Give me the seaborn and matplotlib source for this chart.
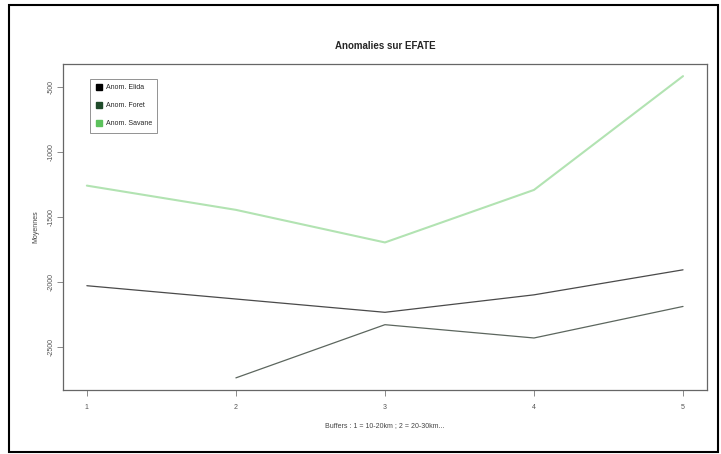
import numpy as np
import pandas as pd
import matplotlib
matplotlib.use("Agg")
import matplotlib.pyplot as plt
import seaborn as sns
from matplotlib.lines import Line2D
from matplotlib.patches import Rectangle

# Data
buffers = [1, 2, 3, 4, 5]
anom_elida = [-2026, -2128, -2230, -2096, -1904]
anom_foret = [np.nan, -2733, -2325, -2427, -2185]
anom_savane = [-1258, -1444, -1694, -1291, -418]
series_names = ["Anom. Elida", "Anom. Foret", "Anom. Savane"]
line_colors = ["#4a4a4a", "#5c665e", "#b2e3b2"]
legend_colors = ["#000000", "#1f4a2a", "#5cc25c"]

df = pd.DataFrame({
    "Buffer": buffers * 3,
    "Moyenne": anom_elida + anom_foret + anom_savane,
    "Serie": [series_names[0]] * 5 + [series_names[1]] * 5 + [series_names[2]] * 5,
}).dropna()

sns.set_style("white")
plt.rcParams['font.family'] = ['Liberation Sans', 'DejaVu Sans']

fig = plt.figure(figsize=(7.21, 4.54), dpi=100)
ax = fig.add_axes([0.0874, 0.141, 0.893, 0.718])

sns.lineplot(data=df, x="Buffer", y="Moyenne", hue="Serie", hue_order=series_names,
             palette=line_colors, linewidth=0.9, legend=False, ax=ax)
# savane line is a bit thicker in the reference
ax.lines[2].set_linewidth(1.5)

ax.set_xlim(0.84, 5.16)
ax.set_ylim(-2826, -325)
ax.set_xticks(buffers)
ax.set_yticks([-2500, -2000, -1500, -1000, -500])
ax.set_yticklabels(["-2500", "-2000", "-1500", "-1000", "-500"], rotation=90, va="center")
ax.tick_params(axis="both", direction="out", length=4, width=0.6, color="#777777",
               labelsize=5, labelcolor="#555555", left=True, bottom=True)
ax.tick_params(axis="y", pad=2)
ax.tick_params(axis="x", pad=6)
for sp in ax.spines.values():
    sp.set_color("#666666")
    sp.set_linewidth(0.9)

ax.set_xlabel("Buffers : 1 = 10-20km ; 2 = 20-30km...", fontsize=5, color="#444444", labelpad=8)
ax.set_ylabel("Moyennes", fontsize=5, color="#444444", labelpad=6)
ax.set_title("Anomalies sur EFATE", fontsize=7, fontweight="bold", pad=11)

handles = [Line2D([0], [0], marker="s", linestyle="none", markersize=4,
                  markerfacecolor=c, markeredgecolor=c) for c in legend_colors]
leg = ax.legend(handles, series_names, loc="upper left", bbox_to_anchor=(0.037, 0.966),
                fontsize=5, frameon=True, fancybox=False, edgecolor="#777777",
                handletextpad=0.4, borderpad=0.8, labelspacing=1.6, handlelength=1.0)
leg.get_frame().set_linewidth(0.7)

# outer black frame around the whole picture
fig.patches.append(Rectangle((9 / 721, 2 / 454), 709 / 721, 447 / 454, transform=fig.transFigure,
                             fill=False, edgecolor="black", linewidth=1.5))

fig.savefig("out.png", dpi=100)
